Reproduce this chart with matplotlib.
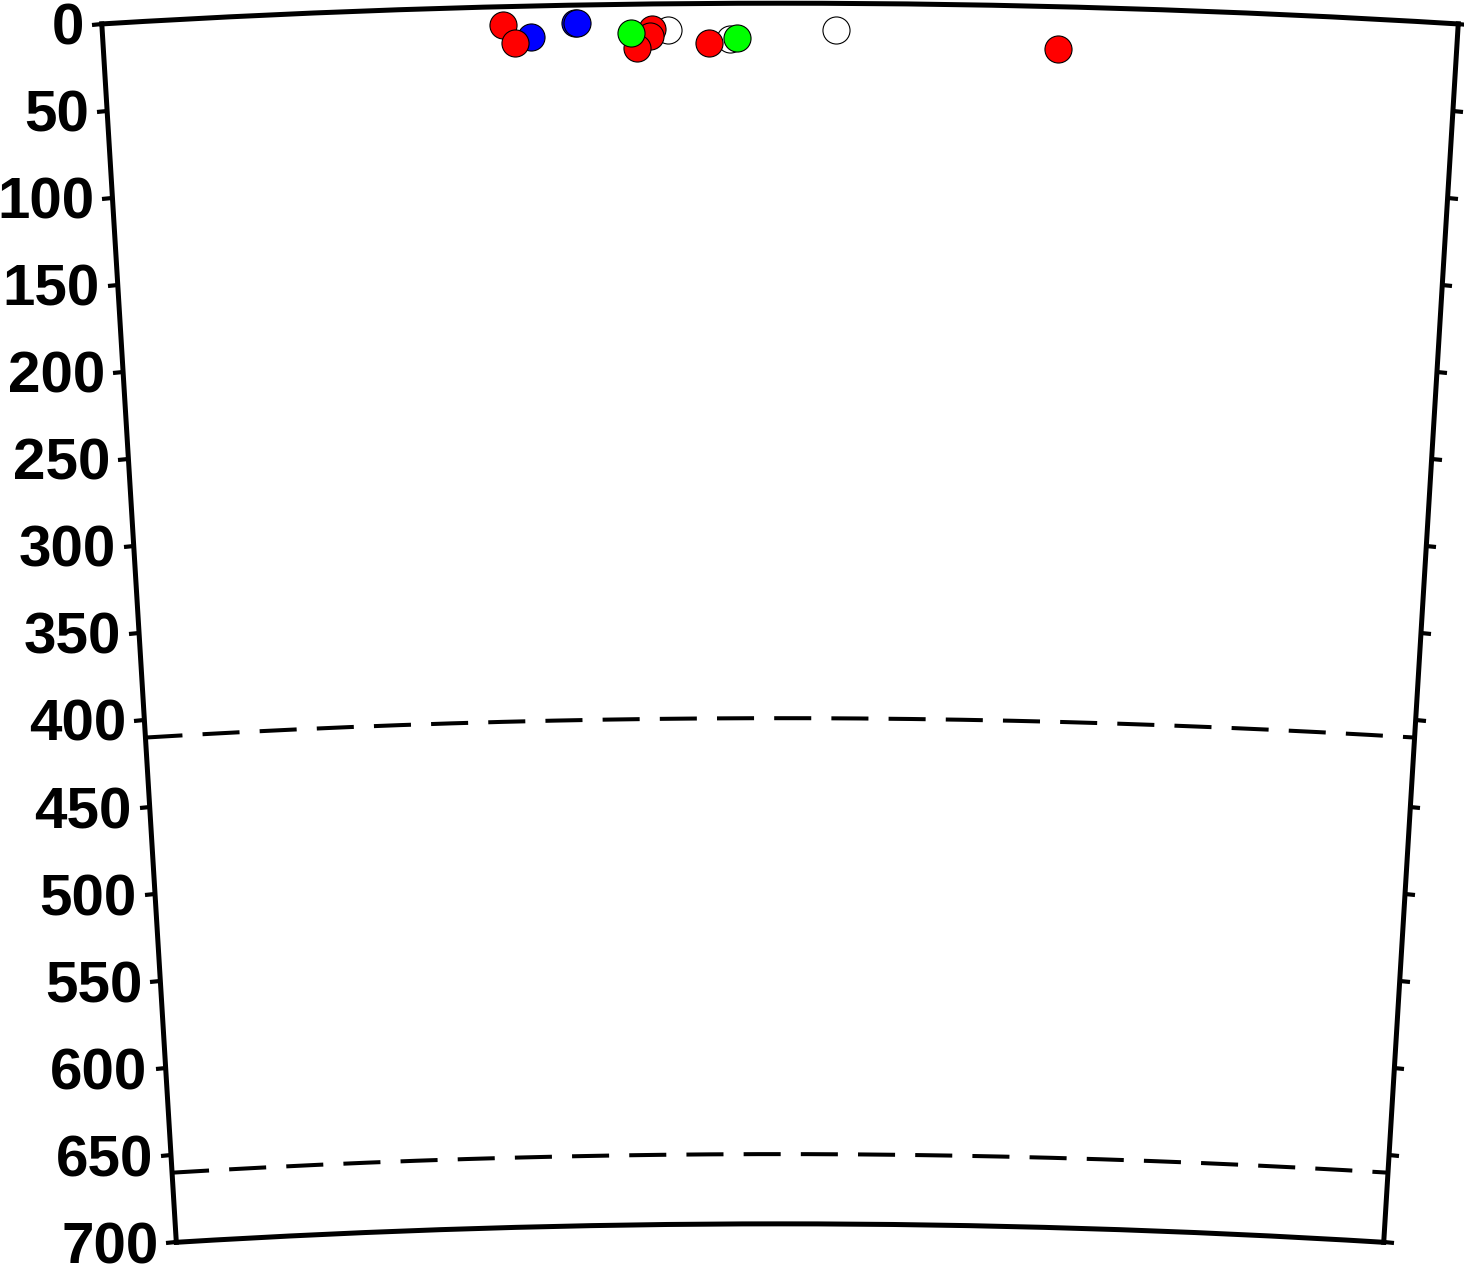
import numpy as np
import matplotlib
matplotlib.use("Agg")
import matplotlib.pyplot as plt

# earth radius and section extent
R_EARTH = 6371.0
MAX_DEPTH = 700
HALF_ANGLE = 3.5  # degrees

depth_ticks = [0, 50, 100, 150, 200, 250, 300, 350, 400, 450, 500, 550, 600, 650, 700]
discontinuities = [410, 660]

# events: angle along section (deg) and depth (km)
red_theta = [-1.43, -1.37, -0.66, -0.67, -0.74, -0.37, 1.44]
red_depth = [10.5, 20.8, 14.5, 18.3, 24.9, 22.5, 24.3]
blue_theta = [-1.29, -1.06, -1.05]
blue_depth = [17.7, 10.3, 10.3]
green_theta = [-0.77, -0.22]
green_depth = [16.3, 19.7]
open_theta = [-0.58, -0.26, 0.29]
open_depth = [15.2, 20.6, 15.4]

plt.rcParams['font.family'] = ['Liberation Sans', 'DejaVu Sans']

fig = plt.figure(figsize=(14.64, 12.69), dpi=100)
# polar sector leaves some padding inside the axes box, so box is oversized
ax = fig.add_axes([0.0264, -0.0252, 1.0128, 1.0689], projection='polar')
ax.set_theta_zero_location('N')
ax.set_theta_direction(-1)
ax.set_thetamin(-HALF_ANGLE)
ax.set_thetamax(HALF_ANGLE)
ax.set_ylim(R_EARTH - MAX_DEPTH, R_EARTH)
ax.set_rorigin(0)
ax.grid(False)
ax.set_xticks([])

r_ticks = [R_EARTH - d for d in depth_ticks]
ax.set_yticks(r_ticks)
ax.set_yticklabels([])
ax.tick_params(axis='y', direction='out', length=7.5, width=3,
               left=True, right=True, labelleft=False, labelright=False)

for sp in ax.spines.values():
    sp.set_linewidth(3.6)
    sp.set_color('black')

# depth labels on the left edge
for d in depth_ticks:
    ax.annotate(str(d), xy=(np.deg2rad(-HALF_ANGLE), R_EARTH - d),
                xytext=(-13, -15), textcoords='offset points',
                ha='right', va='baseline', fontsize=42, fontweight='bold',
                annotation_clip=False)

# 410 and 660 discontinuities
th = np.deg2rad(np.linspace(-HALF_ANGLE, HALF_ANGLE, 200))
for d in discontinuities:
    ax.plot(th, np.full_like(th, R_EARTH - d), color='black', lw=2.9,
            linestyle=(0, (9.2, 5)))

def events(theta, depth, face):
    ax.scatter(np.deg2rad(theta), R_EARTH - np.array(depth), s=380,
               facecolor=face, edgecolor='black', linewidth=0.8,
               zorder=5, clip_on=False)

events(open_theta, open_depth, 'white')
events(blue_theta, blue_depth, '#0000ff')
events(red_theta, red_depth, '#ff0000')
events(green_theta, green_depth, '#00ff00')

fig.savefig('out.png', dpi=100)
